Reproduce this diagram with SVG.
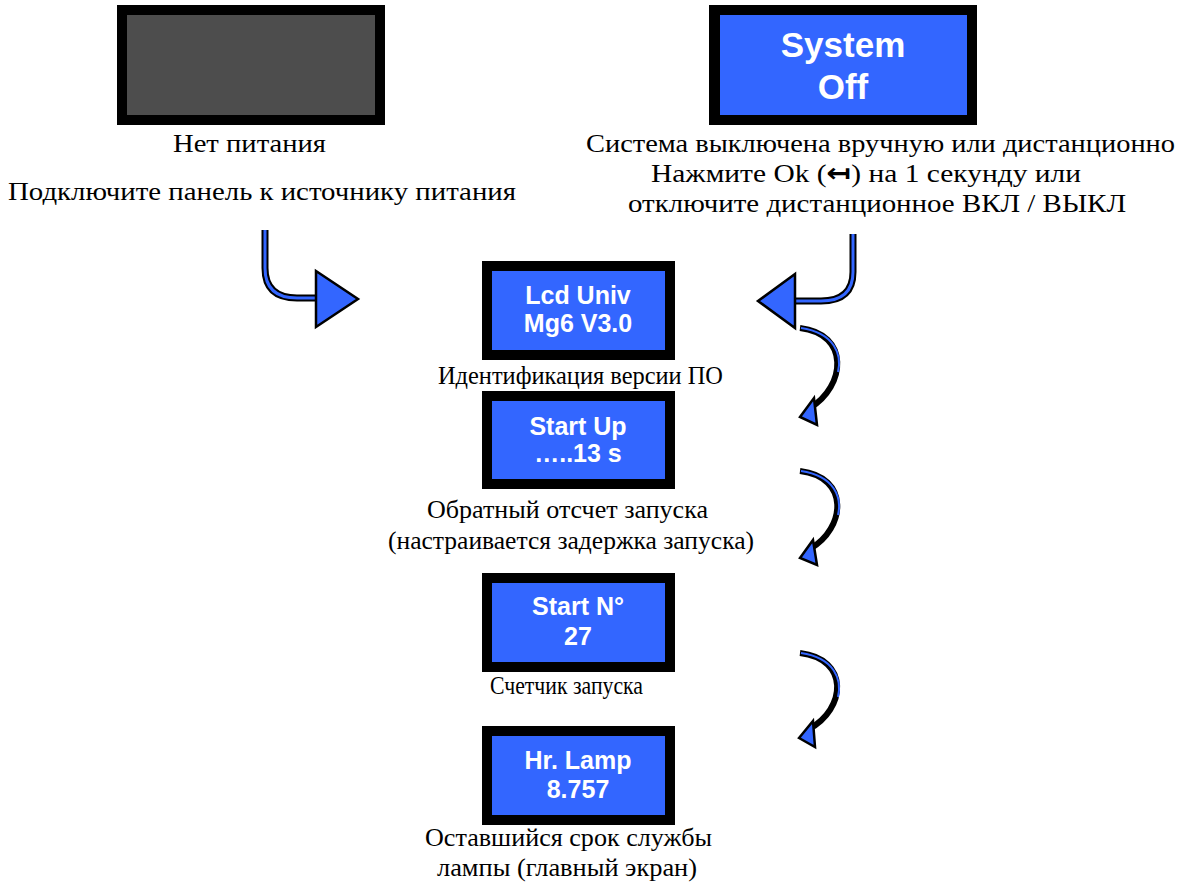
<svg xmlns="http://www.w3.org/2000/svg" width="1187" height="885" viewBox="0 0 1187 885">
<style>
.frame{fill:#000000}
.lcd{fill:#3366ff}
.dark{fill:#4d4d4d}
.lt{font-family:"Liberation Sans",Arial,sans-serif;font-weight:bold;fill:#ffffff;text-anchor:middle}
.cap{font-family:"Liberation Serif","Times New Roman",serif;font-size:26px;fill:#000000;text-anchor:middle}
.sh-o{fill:none;stroke:#000000;stroke-width:7}
.sh-i{fill:none;stroke:#3366ff;stroke-width:3}
.head{fill:#3366ff;stroke:#000000;stroke-width:2.5;stroke-linejoin:miter}
.c-o{fill:none;stroke:#000000;stroke-width:6}
.c-i{fill:none;stroke:#3366ff;stroke-width:2}
</style>
<rect width="1187" height="885" fill="#ffffff"/>
<g id="node-nopower">
<rect class="frame" x="117" y="5" width="268" height="120"/>
<rect class="dark" x="127" y="15" width="248" height="100"/>
</g>
<g id="node-systemoff">
<rect class="frame" x="709" y="5" width="268" height="120"/>
<rect class="lcd" x="720" y="15" width="247" height="100"/>
<text class="lt" x="843" y="57" font-size="35">System</text>
<text class="lt" x="843" y="99" font-size="35">Off</text>
</g>
<g id="node-lcd">
<rect class="frame" x="482" y="261" width="193" height="99"/>
<rect class="lcd" x="492" y="271" width="173" height="79"/>
<text class="lt" x="578" y="304" font-size="25">Lcd Univ</text>
<text class="lt" x="578" y="332" font-size="25">Mg6 V3.0</text>
</g>
<g id="node-startup">
<rect class="frame" x="482" y="391" width="193" height="98"/>
<rect class="lcd" x="492" y="401" width="173" height="78"/>
<text class="lt" x="578" y="435" font-size="25">Start Up</text>
<text class="lt" x="578" y="462" font-size="25">…..13 s</text>
</g>
<g id="node-startn">
<rect class="frame" x="482" y="573" width="193" height="99"/>
<rect class="lcd" x="492" y="583" width="173" height="79"/>
<text class="lt" x="578" y="615" font-size="25">Start N°</text>
<text class="lt" x="578" y="645" font-size="25">27</text>
</g>
<g id="node-hrlamp">
<rect class="frame" x="482" y="726" width="193" height="99"/>
<rect class="lcd" x="492" y="736" width="173" height="79"/>
<text class="lt" x="578" y="769" font-size="25">Hr. Lamp</text>
<text class="lt" x="578" y="798" font-size="25">8.757</text>
</g>
<g id="captions">
<text class="cap" x="249.5" y="152" textLength="153" lengthAdjust="spacingAndGlyphs">Нет питания</text>
<text class="cap" x="262" y="200" textLength="508" lengthAdjust="spacingAndGlyphs">Подключите панель к источнику питания</text>
<text class="cap" x="880.5" y="152" textLength="589" lengthAdjust="spacingAndGlyphs">Система выключена вручную или дистанционно</text>
<text class="cap" x="866" y="182" textLength="430" lengthAdjust="spacingAndGlyphs">Нажмите Ok (<tspan font-family="DejaVu Sans,sans-serif" font-weight="bold">↤</tspan>) на 1 секунду или</text>
<text class="cap" x="877" y="212" textLength="498" lengthAdjust="spacingAndGlyphs">отключите дистанционное ВКЛ / ВЫКЛ</text>
<text class="cap" x="580.5" y="384" textLength="285" lengthAdjust="spacingAndGlyphs">Идентификация версии ПО</text>
<text class="cap" x="567.5" y="518" textLength="281" lengthAdjust="spacingAndGlyphs">Обратный отсчет запуска</text>
<text class="cap" x="571" y="549" textLength="366" lengthAdjust="spacingAndGlyphs">(настраивается задержка запуска)</text>
<text class="cap" x="566.5" y="694" font-size="22" textLength="153" lengthAdjust="spacingAndGlyphs">Счетчик запуска</text>
<text class="cap" x="568.5" y="846" textLength="287" lengthAdjust="spacingAndGlyphs">Оставшийся срок службы</text>
<text class="cap" x="567" y="876" textLength="260" lengthAdjust="spacingAndGlyphs">лампы (главный экран)</text>
</g>
<g id="connectors">
<path class="sh-o" d="M265 230 V268 Q265 298 297 298 H318"/>
<path class="sh-i" d="M265 230 V268 Q265 298 297 298 H318"/>
<polygon class="head" points="316,271 358,299 316,327"/>
<path class="sh-o" d="M853 234 V272 Q853 301 821 301 H795"/>
<path class="sh-i" d="M853 234 V272 Q853 301 821 301 H795"/>
<polygon class="head" points="795,274 758,301 795,328"/>
<path class="c-o" d="M800 328 C850 334 846 386 810 408"/>
<path class="c-i" d="M801 328 C835 333 842 355 838 372"/>
<polygon class="head" points="800,417 814,398 817,425"/>
<path class="c-o" d="M800 471 C850 477 846 528 810 549"/>
<path class="c-i" d="M801 471 C835 476 842 498 838 515"/>
<polygon class="head" points="800,558 813,540 817,565"/>
<path class="c-o" d="M800 653 C850 659 846 709 809 729"/>
<path class="c-i" d="M801 653 C835 658 842 680 838 697"/>
<polygon class="head" points="799,738 813,721 815,747"/>
</g>
</svg>
